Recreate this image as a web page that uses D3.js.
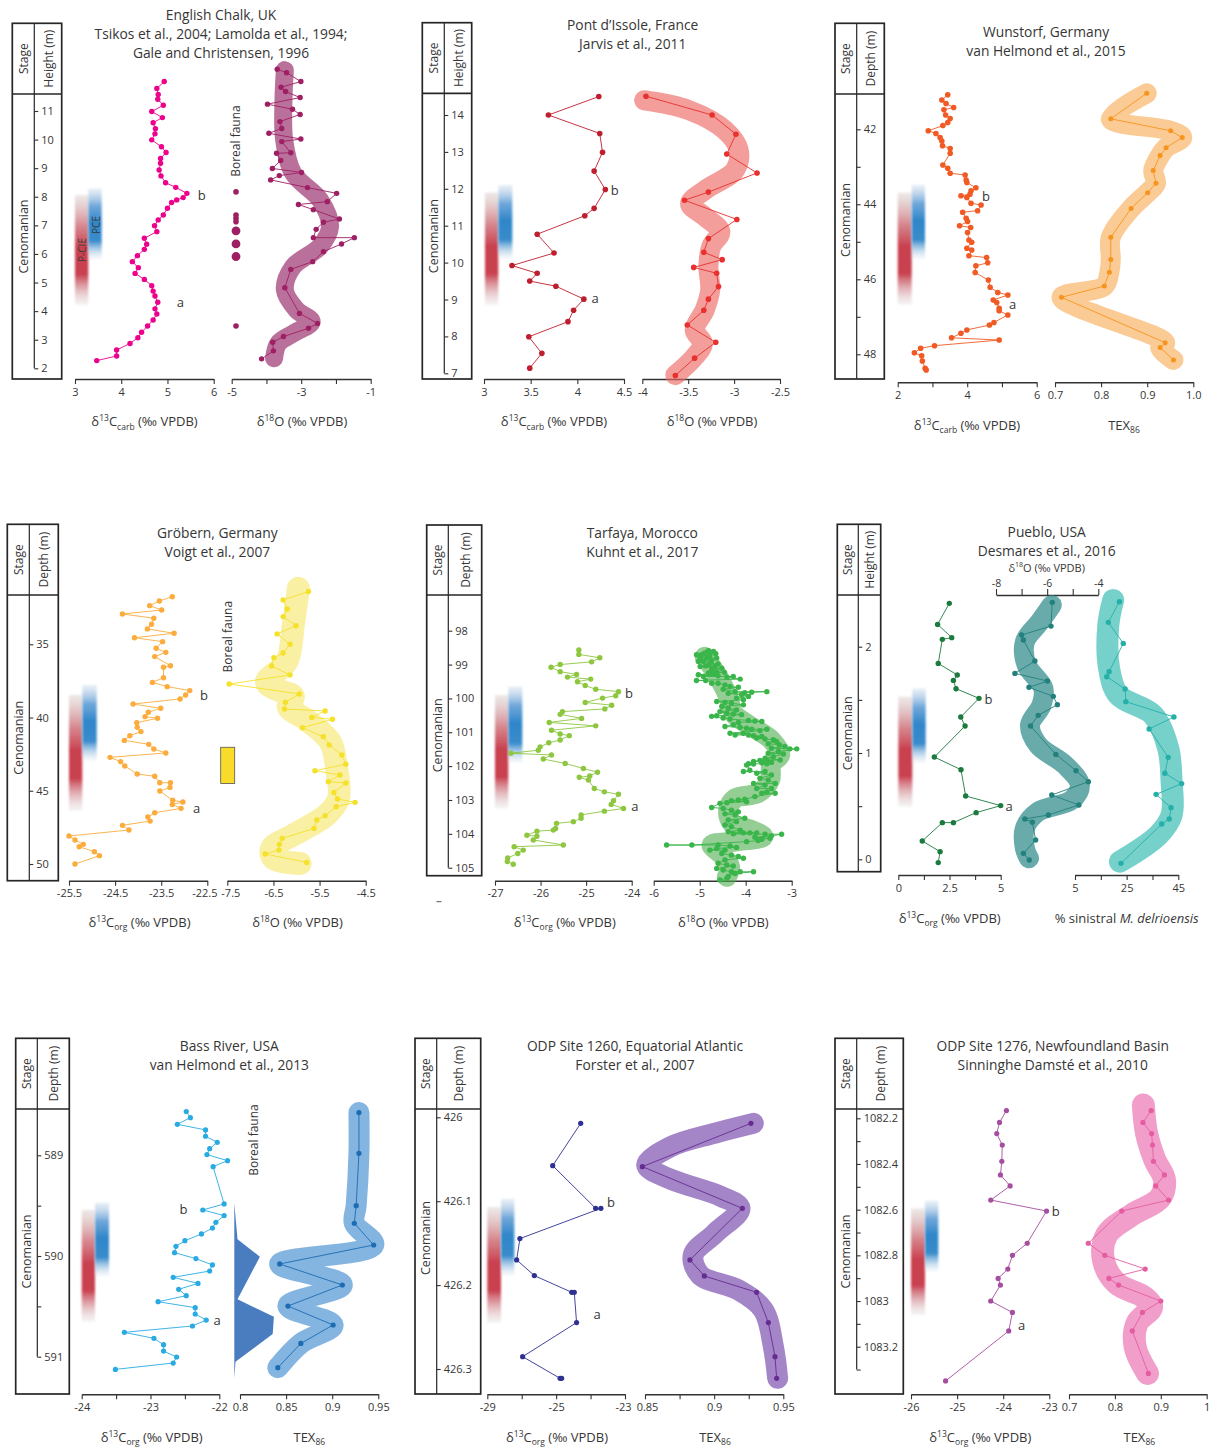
<!DOCTYPE html>
<html>
<head>
<meta charset="utf-8">
<script src="https://cdn.jsdelivr.net/npm/d3@7"></script>
<style>
  body { margin: 0; background: #fff; }
  svg text { font-family: "Open Sans", Lato, sans-serif; fill: #363636; }
</style>
</head>
<body>
<script>
// ================= data (value, depth/height) =================

// English Chalk
const chalkDepthTicks = [2, 3, 4, 5, 6, 7, 8, 9, 10, 11];
const chalkC13Ticks = [3, 4, 5, 6];
const chalkO18Ticks = [-5, -4, -3, -2, -1];
const chalkO18Labels = ["-5", "", "-3", "", "-1"];
const chalkC13 = [[4.93,12.03],[4.77,11.79],[4.80,11.58],[4.79,11.41],[4.91,11.20],[4.66,10.98],[4.89,10.77],[4.69,10.59],[4.74,10.38],[4.73,10.20],[4.66,9.99],[4.87,9.75],[4.97,9.55],[4.85,9.34],[4.85,9.17],[4.82,8.94],[4.86,8.73],[4.96,8.49],[5.18,8.33],[5.42,8.12],[5.34,7.97],[5.20,7.89],[5.09,7.80],[5.00,7.60],[4.91,7.36],[4.80,7.19],[4.72,6.99],[4.77,6.78],[4.50,6.55],[4.55,6.34],[4.50,6.16],[4.35,5.94],[4.24,5.73],[4.37,5.52],[4.30,5.32],[4.50,5.11],[4.66,4.89],[4.69,4.70],[4.73,4.53],[4.79,4.31],[4.73,4.08],[4.77,3.90],[4.69,3.69],[4.57,3.48],[4.44,3.26],[4.36,3.07],[4.19,2.87],[3.90,2.64],[3.90,2.43],[3.47,2.27]];
const chalkO18 = [[-3.69,12.46],[-3.42,12.34],[-3.01,12.03],[-3.58,11.83],[-3.45,11.68],[-3.03,11.47],[-3.97,11.24],[-3.25,11.06],[-3.03,10.88],[-3.61,10.63],[-3.56,10.39],[-3.93,10.22],[-3.01,10.02],[-3.56,9.93],[-3.30,9.54],[-3.71,9.52],[-3.59,9.27],[-3.83,8.99],[-2.99,8.85],[-3.63,8.74],[-3.88,8.59],[-2.82,8.32],[-1.98,8.12],[-2.25,7.83],[-3.08,7.73],[-2.65,7.55],[-1.90,7.22],[-2.36,7.11],[-2.57,6.86],[-2.65,6.57],[-1.47,6.57],[-1.84,6.35],[-2.36,6.08],[-2.67,5.73],[-3.30,5.46],[-3.47,4.82],[-3.05,3.92],[-2.53,3.57],[-2.79,3.40],[-3.51,3.11],[-3.82,2.91],[-3.80,2.61],[-4.14,2.33]];
const chalkBand = [[-3.47,12.43],[-3.51,11.38],[-3.49,9.99],[-3.23,8.82],[-2.46,7.89],[-2.17,6.96],[-2.46,6.26],[-3.23,5.56],[-3.47,4.74],[-3.13,4.04],[-2.70,3.63],[-3.23,3.22],[-3.66,2.87],[-3.78,2.35]];
const chalkBorealDepth = [8.17, 7.36, 7.25, 7.13, 6.81, 6.35, 5.91, 3.48];
const chalkBorealClass = [1, 1, 1, 1, 2, 2, 2, 1];
const chalkPCIE = [8.06, 4.21], chalkPCE = [8.29, 5.81];
const chalkA = [5.28, 4.33], chalkB = [5.74, 8.06];

// Pont d'Issole
const pontDepthTicks = [7, 8, 9, 10, 11, 12, 13, 14];
const pontC13Ticks = [3, 3.5, 4, 4.5];
const pontO18Ticks = [-4, -3.5, -3, -2.5];
const pontC13 = [[4.23,14.50],[3.69,14.00],[4.24,13.50],[4.27,12.99],[4.18,12.48],[4.30,11.98],[4.18,11.47],[4.08,11.27],[3.57,10.77],[3.75,10.26],[3.30,9.92],[3.57,9.71],[3.49,9.50],[3.77,9.36],[4.07,9.01],[3.96,8.71],[3.90,8.40],[3.48,7.99],[3.62,7.54],[3.49,7.14]];
const pontO18 = [[-3.96,14.51],[-3.24,14.00],[-2.98,13.48],[-3.08,12.94],[-2.75,12.43],[-3.28,11.91],[-3.54,11.69],[-2.97,11.17],[-3.28,10.65],[-3.33,10.28],[-3.13,10.08],[-3.44,9.87],[-3.19,9.71],[-3.17,9.35],[-3.28,9.01],[-3.33,8.71],[-3.51,8.31],[-3.20,7.84],[-3.43,7.41],[-3.64,6.94]];
const pontBand = [[-3.98,14.40],[-3.50,14.14],[-3.10,13.59],[-2.95,13.05],[-2.99,12.51],[-3.32,11.96],[-3.48,11.60],[-3.32,11.25],[-3.15,10.84],[-3.25,10.43],[-3.28,9.89],[-3.26,9.26],[-3.32,8.72],[-3.43,8.17],[-3.34,7.81],[-3.43,7.45],[-3.64,6.95]];
const pontPCIE = [11.90, 8.85], pontPCE = [12.10, 10.09];
const pontA = [4.19, 9.03], pontB = [4.40, 11.98];

// Wunstorf
const wunDepthTicks = [42, 43, 44, 45, 46, 47, 48];
const wunDepthLabels = ["42", "", "44", "", "46", "", "48"];
const wunC13Ticks = [2, 3, 4, 5, 6];
const wunC13Labels = ["2", "", "4", "", "6"];
const wunTexTicks = [0.7, 0.8, 0.9, 1.0];
const wunTexLabels = ["0.7", "0.8", "0.9", "1.0"];
const wunC13 = [[3.44,41.08],[3.27,41.22],[3.39,41.31],[3.61,41.42],[3.33,41.48],[3.38,41.62],[3.51,41.71],[3.44,41.82],[3.30,41.90],[2.88,42.04],[3.10,42.11],[3.22,42.22],[3.27,42.31],[3.29,42.44],[3.51,42.51],[3.51,42.64],[3.30,42.95],[3.44,43.04],[3.51,43.17],[3.94,43.22],[3.97,43.35],[3.99,43.42],[4.25,43.56],[4.11,43.64],[4.08,43.73],[3.82,43.77],[3.99,43.82],[4.11,43.97],[4.40,44.02],[4.30,44.17],[3.87,44.21],[3.97,44.37],[4.01,44.46],[3.78,44.57],[4.10,44.62],[4.01,44.75],[4.05,44.95],[4.13,45.01],[3.99,45.17],[4.13,45.22],[4.05,45.37],[4.56,45.42],[4.59,45.56],[4.25,45.64],[4.23,45.82],[4.61,46.02],[4.66,46.21],[4.88,46.35],[5.17,46.42],[4.75,46.55],[4.85,46.62],[4.92,46.77],[4.92,46.84],[5.17,46.95],[4.77,47.15],[4.64,47.22],[3.99,47.35],[3.82,47.44],[3.55,47.56],[4.92,47.62],[3.06,47.77],[2.66,47.84],[2.48,47.96],[2.69,48.04],[2.71,48.18],[2.79,48.37],[2.82,48.42]];
const wunTex = [[0.899,41.04],[0.821,41.72],[0.951,42.04],[0.976,42.22],[0.941,42.49],[0.928,42.70],[0.913,43.10],[0.919,43.44],[0.901,43.69],[0.865,44.11],[0.821,44.88],[0.821,45.47],[0.818,45.81],[0.807,46.18],[0.714,46.48],[0.939,47.69],[0.928,47.82],[0.957,48.15]];
const wunPCIE = [43.69, 46.68], wunPCE = [43.48, 45.47];
const wunA = [5.31, 46.67], wunB = [4.54, 43.77];

// Gröbern
const grobDepthTicks = [35, 40, 45, 50];
const grobC13Ticks = [-25.5, -24.5, -23.5, -22.5];
const grobO18Ticks = [-7.5, -6.5, -5.5, -4.5];
const grobC13 = [[-23.26,31.75],[-23.54,32.04],[-23.75,32.36],[-23.49,32.66],[-24.34,32.93],[-23.66,33.22],[-23.71,33.63],[-23.80,33.95],[-23.22,34.25],[-24.08,34.55],[-23.47,34.82],[-23.61,35.27],[-23.40,35.55],[-23.64,35.84],[-23.30,36.46],[-23.45,36.57],[-23.45,37.28],[-23.69,37.60],[-23.37,37.89],[-22.88,38.16],[-22.97,38.46],[-23.09,38.73],[-24.11,39.08],[-23.51,39.37],[-23.78,39.64],[-23.85,39.94],[-23.58,40.05],[-24.03,40.35],[-24.02,40.67],[-23.94,40.96],[-24.18,41.24],[-24.30,41.56],[-23.77,41.83],[-23.66,42.15],[-23.40,42.42],[-24.61,42.72],[-24.38,43.01],[-24.29,43.31],[-24.02,43.86],[-23.64,44.01],[-23.53,44.45],[-23.30,44.45],[-23.31,44.77],[-23.53,45.02],[-23.25,45.65],[-23.03,45.77],[-23.26,45.93],[-23.07,46.20],[-23.64,46.50],[-23.79,46.79],[-23.74,47.07],[-24.34,47.36],[-24.20,47.68],[-25.50,48.09],[-25.37,48.36],[-25.19,48.66],[-25.28,48.82],[-24.95,49.16],[-24.84,49.43],[-25.37,50.00]];
const grobO18 = [[-5.74,31.40],[-6.29,31.97],[-6.20,32.59],[-6.29,33.11],[-6.01,33.73],[-6.42,34.29],[-6.14,35.00],[-6.29,35.59],[-6.49,35.91],[-6.54,36.48],[-6.14,37.09],[-7.46,37.71],[-5.94,38.39],[-6.24,38.96],[-6.26,39.42],[-5.38,39.55],[-5.67,39.99],[-5.22,40.12],[-5.87,40.69],[-5.42,41.31],[-5.29,41.87],[-5.02,42.56],[-4.93,43.19],[-5.60,43.63],[-5.06,43.92],[-5.31,44.38],[-4.93,44.47],[-5.19,45.11],[-5.11,45.56],[-4.73,45.79],[-5.14,46.09],[-5.38,46.70],[-5.56,47.00],[-5.62,47.57],[-6.31,48.25],[-6.37,48.66],[-6.38,49.05],[-6.68,49.32],[-5.78,49.89]];
const grobBand = [[-5.96,31.18],[-6.07,33.68],[-6.21,36.18],[-6.65,37.55],[-6.50,38.00],[-6.07,38.57],[-6.18,39.26],[-5.78,40.17],[-5.27,41.65],[-5.13,43.47],[-5.09,45.52],[-5.35,46.66],[-6.07,48.02],[-6.54,48.93],[-6.50,49.61],[-5.92,49.96]];
const grobBoreal = [42.03, 44.51];
const grobPCIE = [38.46, 46.36], grobPCE = [37.78, 42.97];
const grobA = [-22.73, 46.20], grobB = [-22.57, 38.48];

// Tarfaya
const tarDepthTicks = [98, 99, 100, 101, 102, 103, 104, 105];
const tarC13Ticks = [-27, -26, -25, -24];
const tarO18Ticks = [-6, -5, -4, -3];
const tarC13 = [[-25.16,98.57],[-25.16,98.70],[-24.70,98.80],[-24.88,98.92],[-25.57,99.00],[-25.77,99.08],[-25.57,99.21],[-25.21,99.29],[-25.41,99.37],[-24.90,99.43],[-25.19,99.51],[-25.02,99.62],[-24.79,99.73],[-24.29,99.80],[-24.35,99.92],[-24.64,99.99],[-25.02,100.12],[-24.44,100.20],[-24.59,100.31],[-25.52,100.39],[-25.57,100.47],[-25.10,100.59],[-25.81,100.71],[-24.79,100.81],[-25.76,100.94],[-25.57,101.05],[-25.37,101.10],[-25.57,101.23],[-25.82,101.31],[-26.01,101.43],[-26.05,101.53],[-26.65,101.62],[-25.76,101.67],[-25.94,101.79],[-25.46,101.92],[-25.06,102.07],[-24.75,102.18],[-24.92,102.29],[-25.15,102.33],[-24.95,102.41],[-24.82,102.66],[-24.60,102.76],[-24.29,102.83],[-24.40,103.02],[-24.45,103.13],[-24.18,103.25],[-24.60,103.33],[-25.11,103.44],[-25.11,103.54],[-25.28,103.64],[-25.65,103.69],[-25.67,103.84],[-25.72,103.89],[-26.08,103.92],[-26.30,104.04],[-26.08,104.07],[-26.16,104.18],[-25.50,104.33],[-26.58,104.38],[-26.38,104.48],[-26.50,104.58],[-26.72,104.71],[-26.73,104.82],[-26.60,104.90]];
const tarO18 = [[-4.81,98.59],[-4.70,98.61],[-4.89,98.66],[-4.65,98.68],[-4.78,98.74],[-4.96,98.71],[-5.07,98.71],[-4.99,98.81],[-4.85,98.81],[-4.63,98.81],[-4.74,98.88],[-4.92,98.91],[-5.03,98.91],[-4.78,98.96],[-4.60,98.98],[-4.87,99.04],[-4.67,99.06],[-4.99,99.06],[-4.74,99.14],[-4.52,99.11],[-4.63,99.21],[-4.46,99.23],[-4.81,99.25],[-5.03,99.30],[-4.92,99.35],[-4.70,99.27],[-4.60,99.33],[-4.41,99.37],[-4.27,99.35],[-4.12,99.43],[-5.07,99.47],[-4.87,99.47],[-4.74,99.55],[-4.60,99.55],[-4.45,99.60],[-4.34,99.65],[-4.16,99.67],[-4.49,99.73],[-4.23,99.80],[-4.02,99.83],[-3.87,99.82],[-3.54,99.80],[-4.38,99.85],[-4.09,99.89],[-3.94,99.94],[-4.20,99.99],[-4.05,100.04],[-4.63,100.09],[-4.45,100.12],[-4.31,100.14],[-4.05,100.19],[-4.52,100.24],[-4.38,100.29],[-4.20,100.34],[-4.56,100.39],[-4.41,100.44],[-4.27,100.46],[-4.09,100.48],[-4.74,100.53],[-4.63,100.51],[-4.49,100.58],[-4.34,100.61],[-3.94,100.65],[-3.80,100.67],[-3.65,100.68],[-4.16,100.71],[-4.27,100.78],[-4.45,100.83],[-4.12,100.85],[-3.98,100.88],[-3.87,100.91],[-3.54,100.91],[-3.69,100.95],[-4.34,101.03],[-4.05,101.03],[-4.23,101.08],[-3.94,101.08],[-3.83,101.10],[-3.65,101.12],[-3.76,101.17],[-3.58,101.20],[-3.40,101.22],[-3.33,101.27],[-3.51,101.34],[-3.27,101.37],[-3.15,101.42],[-3.44,101.47],[-3.04,101.49],[-2.89,101.49],[-3.29,101.57],[-3.51,101.62],[-3.18,101.64],[-3.40,101.72],[-3.58,101.77],[-3.25,101.82],[-3.69,101.83],[-3.83,101.86],[-3.51,101.87],[-3.44,101.89],[-3.65,101.90],[-3.54,101.93],[-3.94,101.93],[-3.83,101.94],[-3.98,101.97],[-3.91,102.12],[-4.05,102.16],[-3.58,102.16],[-3.76,102.21],[-3.44,102.26],[-3.69,102.36],[-3.51,102.41],[-3.36,102.51],[-3.83,102.51],[-3.58,102.56],[-3.76,102.66],[-3.44,102.66],[-3.54,102.76],[-3.65,102.80],[-3.36,102.80],[-3.80,102.90],[-4.02,102.98],[-4.16,103.00],[-4.31,103.02],[-3.98,103.05],[-4.41,103.08],[-4.56,103.10],[-4.74,103.22],[-4.49,103.25],[-4.31,103.30],[-4.16,103.35],[-4.45,103.41],[-4.23,103.44],[-4.02,103.54],[-4.38,103.59],[-4.20,103.64],[-4.45,103.74],[-4.31,103.79],[-4.12,103.89],[-4.38,103.94],[-4.05,103.97],[-3.91,103.97],[-3.76,103.97],[-4.27,104.00],[-3.58,104.01],[-3.22,104.01],[-3.44,104.06],[-3.80,104.10],[-3.47,104.13],[-3.65,104.16],[-3.73,104.20],[-3.98,104.23],[-5.17,104.33],[-5.72,104.33],[-4.60,104.33],[-4.34,104.36],[-4.20,104.40],[-4.63,104.43],[-4.78,104.48],[-4.45,104.48],[-4.52,104.58],[-4.31,104.63],[-4.16,104.67],[-4.05,104.72],[-4.45,104.77],[-4.60,104.87],[-4.41,104.92],[-4.27,104.95],[-4.63,105.02],[-4.49,105.07],[-4.31,105.12],[-4.12,105.12],[-3.83,105.12],[-4.23,105.17],[-4.38,105.26],[-4.41,105.31],[-4.56,105.36]];
const tarBand = [[-4.89,98.77],[-4.60,99.36],[-4.38,99.95],[-4.27,100.44],[-3.94,100.78],[-3.44,101.23],[-3.25,101.67],[-3.44,101.92],[-3.47,102.41],[-3.73,102.80],[-4.23,102.95],[-4.38,103.30],[-4.30,103.69],[-3.87,103.89],[-3.62,104.08],[-4.23,104.23],[-4.74,104.33],[-4.52,104.62],[-4.34,104.97],[-4.41,105.27]];
const tarPCIE = [99.90, 103.25], tarPCE = [99.65, 101.91];
const tarA = [-23.93, 103.18], tarB = [-24.06, 99.83];

// Pueblo
const puebDepthTicks = [0, 0.5, 1, 1.5, 2];
const puebDepthLabels = ["0", "", "1", "", "2"];
const puebC13Ticks = [0, 1.25, 2.5, 3.75, 5];
const puebC13Labels = ["0", "", "2.5", "", "5"];
const puebO18Ticks = [-8, -7, -6, -5, -4];
const puebO18Labels = ["-8", "", "-6", "", "-4"];
const puebSinTicks = [5, 15, 25, 35, 45];
const puebSinLabels = ["5", "", "25", "", "45"];
const puebC13 = [[2.49,2.408],[1.92,2.210],[2.61,2.085],[2.15,2.069],[1.95,1.843],[2.88,1.734],[2.69,1.683],[2.82,1.605],[3.94,1.514],[3.05,1.339],[3.26,1.254],[1.76,0.962],[3.06,0.843],[3.29,0.596],[5.00,0.505],[3.80,0.439],[2.69,0.345],[2.15,0.345],[1.17,0.172],[2.04,0.072],[1.95,-0.031]];
const puebO18 = [[-5.80,2.417],[-5.85,2.194],[-7.00,2.110],[-6.93,2.063],[-6.48,1.865],[-7.26,1.749],[-5.99,1.677],[-6.71,1.618],[-5.76,1.533],[-5.60,1.455],[-6.35,1.354],[-6.65,1.254],[-5.66,0.987],[-4.87,0.834],[-4.39,0.730],[-5.82,0.605],[-4.76,0.511],[-5.95,0.417],[-6.87,0.379],[-6.58,0.348],[-6.45,0.182],[-6.93,0.056],[-6.70,-0.006]];
const puebO18Band = [[-5.82,2.392],[-6.28,2.235],[-6.87,2.047],[-6.80,1.828],[-6.15,1.608],[-6.22,1.451],[-6.67,1.263],[-6.35,1.075],[-5.30,0.887],[-4.72,0.699],[-5.04,0.558],[-6.35,0.448],[-6.87,0.292],[-6.87,0.103],[-6.71,0.009]];
const puebSin = [[22.2,2.423],[17.9,2.229],[23.7,2.031],[18.2,1.765],[17.3,1.718],[24.4,1.602],[24.7,1.483],[43.3,1.339],[33.7,1.226],[41.1,0.959],[39.8,0.809],[46.3,0.712],[36.4,0.611],[42.2,0.486],[41.5,0.379],[38.6,0.332],[22.8,-0.038]];
const puebSinBand = [[19.8,2.439],[17.9,2.204],[18.2,1.796],[21.8,1.545],[35.3,1.357],[41.1,1.044],[42.4,0.730],[42.4,0.417],[37.3,0.229],[22.4,-0.022]];
const puebPCIE = [1.530, 0.495], puebPCE = [1.608, 0.903];
const puebA = [5.41, 0.505], puebB = [4.40, 1.505];

// Bass River
const bassDepthTicks = [589, 589.5, 590, 590.5, 591];
const bassDepthLabels = ["589", "", "590", "", "591"];
const bassC13Ticks = [-24, -23.5, -23, -22.5, -22];
const bassC13Labels = ["-24", "", "-23", "", "-22"];
const bassTexTicks = [0.8, 0.85, 0.9, 0.95];
const bassC13 = [[-22.48,588.566],[-22.42,588.626],[-22.61,588.692],[-22.20,588.748],[-22.20,588.811],[-22.03,588.871],[-22.14,588.934],[-22.18,588.993],[-21.88,589.053],[-22.09,589.113],[-21.93,589.483],[-22.24,589.543],[-21.93,589.599],[-22.05,589.666],[-22.10,589.722],[-22.26,589.781],[-22.50,589.848],[-22.63,589.904],[-22.65,589.967],[-22.34,590.026],[-22.10,590.089],[-22.14,590.149],[-22.67,590.212],[-22.31,590.272],[-22.59,590.331],[-22.48,590.394],[-22.89,590.454],[-22.35,590.513],[-22.35,590.576],[-22.19,590.636],[-22.39,590.695],[-23.38,590.758],[-22.95,590.818],[-22.81,590.881],[-22.81,590.944],[-22.62,591.003],[-22.67,591.063],[-23.51,591.126]];
const bassTex = [[0.929,588.576],[0.929,588.980],[0.926,589.500],[0.924,589.675],[0.945,589.891],[0.843,590.079],[0.911,590.288],[0.852,590.497],[0.901,590.685],[0.866,590.868],[0.841,591.109]];
const bassBorealDepth = [589.477, 589.834, 590.007, 590.430, 590.603, 590.775, 591.050, 591.215];
const bassBorealAbund = [0, 8, 64, 8, 99, 96, 3, 0];
const bassPCIE = [589.543, 590.652], bassPCE = [589.470, 590.205];
const bassA = [-22.03, 590.636], bassB = [-22.52, 589.533];

// ODP Site 1260
const odp60DepthTicks = [426, 426.1, 426.2, 426.3];
const odp60C13Ticks = [-29, -27.5, -26, -24.5, -23];
const odp60C13Labels = ["-29", "", "-25", "", "-23"];
const odp60TexTicks = [0.85, 0.875, 0.9, 0.925, 0.95];
const odp60TexLabels = ["0.85", "", "0.9", "", "0.95"];
const odp60C13 = [[-24.93,426.0072],[-26.15,426.0576],[-24.28,426.1085],[-24.05,426.1085],[-27.58,426.1446],[-27.72,426.1700],[-26.95,426.1887],[-25.32,426.2086],[-25.21,426.2086],[-25.11,426.2447],[-27.46,426.2853],[-25.83,426.3111],[-25.76,426.3111]];
const odp60Tex = [[0.9266,426.0072],[0.8481,426.0588],[0.9204,426.1085],[0.8825,426.1700],[0.8929,426.1891],[0.9307,426.2086],[0.9392,426.2447],[0.9440,426.2853],[0.9452,426.3111]];
const odp60Band = [[0.9283,426.0072],[0.9001,426.0191],[0.8687,426.0350],[0.8512,426.0568],[0.8669,426.0727],[0.9054,426.0946],[0.9187,426.1085],[0.9006,426.1383],[0.8849,426.1641],[0.8898,426.1879],[0.9175,426.2058],[0.9356,426.2296],[0.9428,426.2733],[0.9459,426.3111]];
const odp60PCIE = [426.107, 426.245], odp60PCE = [426.097, 426.189];
const odp60A = [-24.21, 426.2344], odp60B = [-23.61, 426.1005];

// ODP Site 1276
const odp76DepthTicks = [1082.2, 1082.3, 1082.4, 1082.5, 1082.6, 1082.7, 1082.8, 1082.9, 1083, 1083.1, 1083.2, 1083.3];
const odp76DepthLabels = ["1082.2", "", "1082.4", "", "1082.6", "", "1082.8", "", "1083", "", "1083.2", ""];
const odp76C13Ticks = [-26, -25, -24, -23];
const odp76TexTicks = [0.7, 0.8, 0.9, 1];
const odp76C13 = [[-23.93,1082.166],[-24.08,1082.218],[-24.14,1082.267],[-24.02,1082.317],[-24.03,1082.388],[-24.06,1082.448],[-23.85,1082.496],[-24.27,1082.558],[-23.06,1082.606],[-23.48,1082.747],[-23.80,1082.800],[-23.90,1082.860],[-24.11,1082.901],[-24.06,1082.930],[-24.27,1083.000],[-23.80,1083.050],[-23.88,1083.131],[-25.25,1083.350]];
const odp76Tex = [[0.879,1082.166],[0.861,1082.218],[0.880,1082.267],[0.882,1082.317],[0.884,1082.388],[0.908,1082.448],[0.889,1082.496],[0.917,1082.558],[0.815,1082.606],[0.742,1082.747],[0.778,1082.800],[0.866,1082.860],[0.787,1082.901],[0.808,1082.930],[0.900,1083.000],[0.860,1083.050],[0.838,1083.131],[0.873,1083.317]];
const odp76Band = [[0.862,1082.142],[0.869,1082.266],[0.887,1082.382],[0.908,1082.470],[0.898,1082.550],[0.837,1082.623],[0.782,1082.711],[0.775,1082.820],[0.804,1082.923],[0.862,1082.981],[0.880,1083.025],[0.848,1083.098],[0.844,1083.200],[0.871,1083.317]];
const odp76PCIE = [1082.594, 1083.061], odp76PCE = [1082.561, 1082.872];
const odp76A = [-23.60, 1083.105], odp76B = [-22.86, 1082.606];

// axis titles (text, kind)
const T_C13carb = [["δ"], ["13", "sup"], ["C"], ["carb", "sub"], [" (‰ VPDB)"]];
const T_C13org = [["δ"], ["13", "sup"], ["C"], ["org", "sub"], [" (‰ VPDB)"]];
const T_O18 = [["δ"], ["18", "sup"], ["O (‰ VPDB)"]];
const T_TEX = [["TEX"], ["86", "sub"]];
const T_SIN = [["% sinistral "], ["M. delrioensis", "it"]];

// ================= drawing =================
const svg = d3.select("body").append("svg").attr("width", 1211).attr("height", 1447);
const defs = svg.append("defs");

function vGrad(id, stops) {
  const lg = defs.append("linearGradient").attr("id", id)
    .attr("x1", 0).attr("y1", 0).attr("x2", 0).attr("y2", 1);
  stops.forEach(s => lg.append("stop").attr("offset", s[0]).attr("stop-color", s[1]).attr("stop-opacity", s[2]));
}
vGrad("gRed", [[0, "#d8cdca", 0.45], [0.28, "#d27a82", 0.9], [0.48, "#c9404f", 1], [0.72, "#c9404f", 1], [1, "#dcd4d4", 0.25]]);
vGrad("gBlue", [[0, "#c9d8ec", 0.4], [0.25, "#5f9dd6", 0.9], [0.48, "#2f86c9", 1], [0.74, "#3a8ccc", 1], [1, "#dde6f0", 0.2]]);
defs.append("filter").attr("id", "soft").attr("x", "-40%").attr("y", "-10%").attr("width", "180%").attr("height", "120%")
  .append("feGaussianBlur").attr("stdDeviation", "1.3 0.8");

function vtext(g, x, y, s, fs) {
  return g.append("text").attr("transform", `translate(${x},${y}) rotate(-90)`)
    .attr("text-anchor", "middle").attr("dominant-baseline", "central")
    .style("font-size", fs + "px").text(s);
}

function rich(t, parts, small) {
  let shift = 0;
  parts.forEach(([s, kind]) => {
    const sp = t.append("tspan").text(s);
    let target = 0;
    if (kind === "sup") { target = -5; sp.style("font-size", small + "px"); }
    else if (kind === "sub") { target = 3.5; sp.style("font-size", small + "px"); }
    else if (kind === "it") sp.style("font-style", "italic");
    if (target !== shift) { sp.attr("dy", target - shift); shift = target; }
  });
}

function styleAxis(sel, fs) {
  sel.attr("font-family", null).attr("font-size", null);
  sel.selectAll("text").attr("fill", null).style("font-size", fs + "px");
  sel.selectAll(".tick line").attr("stroke", "#333").attr("stroke-width", 1.1);
  sel.select(".domain").attr("stroke", "#333").attr("stroke-width", 1.6);
}

function series(g, s, x, y) {
  const line = d3.line().x(d => x(d[0])).y(d => y(d[1]));
  if (s.band) {
    g.append("path").datum(s.band)
      .attr("d", d3.line().curve(d3.curveCatmullRom.alpha(0.5)).x(d => x(d[0])).y(d => y(d[1])))
      .attr("fill", "none").attr("stroke", s.bandColor).attr("stroke-opacity", s.bandOpacity)
      .attr("stroke-width", s.bandWidth).attr("stroke-linecap", "round").attr("stroke-linejoin", "round");
  }
  const pts = s.sort ? d3.sort(s.data, d => d[1]) : s.data;
  g.append("path").datum(pts).attr("d", line)
    .attr("fill", "none").attr("stroke", s.color).attr("stroke-width", 0.9);
  g.append("g").selectAll("circle").data(pts).join("circle")
    .attr("cx", d => x(d[0])).attr("cy", d => y(d[1])).attr("r", s.r).attr("fill", s.color);
}

function drawPanel(p) {
  const g = svg.append("g");
  const b = p.box;
  const ink = "#262626";
  const y = d3.scaleLinear().domain(p.depthRef).range(p.depthPx);

  // stage / depth column
  g.append("rect").attr("x", b.x0).attr("y", b.y0).attr("width", b.x1 - b.x0).attr("height", b.y1 - b.y0)
    .attr("fill", "none").attr("stroke", ink).attr("stroke-width", 1.7);
  g.append("line").attr("x1", b.x0).attr("x2", b.x1).attr("y1", b.head).attr("y2", b.head)
    .attr("stroke", ink).attr("stroke-width", 1.7);
  g.append("line").attr("x1", b.div).attr("x2", b.div).attr("y1", b.y0)
    .attr("y2", b.divFull ? b.y1 : d3.max(p.depthTicks, y)).attr("stroke", ink).attr("stroke-width", 1.2);
  const da = g.append("g").attr("transform", `translate(${b.div},0)`)
    .call(d3.axisRight(y).tickValues(p.depthTicks).tickSize(4).tickPadding(3)
      .tickFormat((d, i) => p.depthLabels ? p.depthLabels[i] : d));
  da.select(".domain").remove();
  styleAxis(da, 11);
  vtext(g, (b.x0 + b.div) / 2, (b.y0 + b.head) / 2, "Stage", 12);
  vtext(g, (b.div + b.x1) / 2, (b.y0 + b.head) / 2, p.depthName, 12);
  vtext(g, (b.x0 + b.div) / 2, p.stageY || (b.head + b.y1) / 2, "Cenomanian", 12.5);

  // site title
  p.title.forEach((t, i) => g.append("text").attr("x", p.titleX).attr("y", p.titleY + i * 19 + 4.6)
    .attr("text-anchor", "middle").style("font-size", "13.8px").text(t));

  // P-CIE / PCE bars
  const bar = (xr, dr, id) => g.append("rect").attr("x", xr[0]).attr("width", xr[1] - xr[0])
    .attr("y", Math.min(y(dr[0]), y(dr[1]))).attr("height", Math.abs(y(dr[1]) - y(dr[0])))
    .attr("fill", `url(#${id})`).attr("filter", "url(#soft)");
  bar(p.redX, p.pcie, "gRed");
  bar(p.blueX, p.pce, "gBlue");

  if (p.extraBefore) p.extraBefore(g, y);

  const xs = [];
  p.axes.forEach(a => {
    const x = d3.scaleLinear().domain(a.domain).range(a.range);
    xs.push(x);
    const gen = a.top ? d3.axisTop(x) : d3.axisBottom(x);
    const ag = g.append("g").attr("transform", `translate(0,${a.y})`)
      .call(gen.tickValues(a.ticks).tickSize(a.top ? 6 : 5).tickSizeOuter(0).tickPadding(a.top ? 2 : 4)
        .tickFormat((d, i) => a.labels ? a.labels[i] : d));
    styleAxis(ag, a.top ? 10.5 : 11);
    if (a.nudge) {
      const tx = ag.selectAll(".tick text");
      const n = tx.size();
      tx.attr("dx", (d, i) => i === 0 ? a.nudge[0] : (i === n - 1 ? a.nudge[1] : 0));
    }
    const t = g.append("text").attr("x", a.titleX).attr("y", a.titleY)
      .attr("text-anchor", "middle").style("font-size", (a.top ? 11 : 13) + "px");
    rich(t, a.title, a.top ? 7 : 8.5);
    if (a.series) series(g, a.series, x, y);
  });

  // a / b labels on the carbon curve
  const xc = xs[0];
  [["a", p.markA], ["b", p.markB]].forEach(([s, m]) =>
    g.append("text").attr("x", xc(m[0])).attr("y", y(m[1])).attr("text-anchor", "middle")
      .attr("dominant-baseline", "central").style("font-size", "13px").text(s));

  if (p.extra) p.extra(g, y, xs);
}

const panels = [
  { // English Chalk
    title: ["English Chalk, UK", "Tsikos et al., 2004; Lamolda et al., 1994;", "Gale and Christensen, 1996"],
    titleX: 221, titleY: 15.7,
    box: { x0: 12.3, x1: 61.7, y0: 23.3, head: 94, y1: 379, div: 34.3, divFull: false },
    depthName: "Height (m)", depthRef: [2, 11], depthPx: [368.3, 111], depthTicks: chalkDepthTicks,
    redX: [75, 88.3], blueX: [88.3, 101.7], pcie: chalkPCIE, pce: chalkPCE, markA: chalkA, markB: chalkB,
    axes: [
      { range: [75, 213.7], domain: [3, 6], ticks: chalkC13Ticks, y: 379, title: T_C13carb, titleX: 144.5, titleY: 426,
        series: { data: chalkC13, color: "#ec008c", r: 2.7 } },
      { range: [231.7, 370.7], domain: [-5, -1], ticks: chalkO18Ticks, labels: chalkO18Labels, y: 379, title: T_O18, titleX: 302, titleY: 426,
        series: { data: chalkO18, color: "#9e1f63", r: 2.7, band: chalkBand, bandColor: "#9e3a74", bandOpacity: 0.72, bandWidth: 18 } }
    ],
    extra: (g, y) => {
      vtext(g, 235, 141, "Boreal fauna", 12);
      const rs = d3.scaleLinear().domain([1, 2]).range([2.8, 4.4]);
      g.append("g").selectAll("circle").data(chalkBorealDepth).join("circle")
        .attr("cx", 236).attr("cy", d => y(d)).attr("r", (d, i) => rs(chalkBorealClass[i])).attr("fill", "#9e1f63");
      vtext(g, 81.9, 250, "P-CIE", 10).style("fill", "#3a3a3a");
      vtext(g, 95.6, 225, "PCE", 10).style("fill", "#3a3a3a");
    }
  },
  { // Pont d'Issole
    title: ["Pont d’Issole, France", "Jarvis et al., 2011"], titleX: 632.7, titleY: 25.7,
    box: { x0: 422.3, x1: 471.7, y0: 22.7, head: 93.3, y1: 379, div: 444.3, divFull: false },
    depthName: "Height (m)", depthRef: [7, 14], depthPx: [373.3, 115], depthTicks: pontDepthTicks,
    redX: [485, 498.3], blueX: [498.3, 512.3], pcie: pontPCIE, pce: pontPCE, markA: pontA, markB: pontB,
    axes: [
      { range: [484, 624], domain: [3, 4.5], ticks: pontC13Ticks, y: 379, title: T_C13carb, titleX: 554, titleY: 426,
        series: { data: pontC13, color: "#be1e2d", r: 2.8 } },
      { range: [642.3, 780], domain: [-4, -2.5], ticks: pontO18Ticks, y: 379, title: T_O18, titleX: 712, titleY: 426,
        series: { data: pontO18, color: "#e8302f", r: 2.8, band: pontBand, bandColor: "#ec6a64", bandOpacity: 0.65, bandWidth: 20 } }
    ]
  },
  { // Wunstorf
    title: ["Wunstorf, Germany", "van Helmond et al., 2015"], titleX: 1046, titleY: 32.3,
    box: { x0: 835, x1: 884.3, y0: 23.3, head: 94, y1: 379, div: 856.7, divFull: true }, stageY: 220,
    depthName: "Depth (m)", depthRef: [42, 48], depthPx: [129.3, 354.3], depthTicks: wunDepthTicks, depthLabels: wunDepthLabels,
    redX: [897.7, 911.7], blueX: [911.7, 925], pcie: wunPCIE, pce: wunPCE, markA: wunA, markB: wunB,
    axes: [
      { range: [897.7, 1036.7], domain: [2, 6], ticks: wunC13Ticks, labels: wunC13Labels, y: 382.3, title: T_C13carb, titleX: 967, titleY: 429.5,
        series: { data: wunC13, color: "#f15a24", r: 2.8 } },
      { range: [1055, 1193.3], domain: [0.7, 1.0], ticks: wunTexTicks, labels: wunTexLabels, y: 382.3, title: T_TEX, titleX: 1124, titleY: 429.5,
        series: { data: wunTex, color: "#f7941d", r: 2.5, band: wunTex, bandColor: "#f9a94e", bandOpacity: 0.6, bandWidth: 20 } }
    ]
  },
  { // Gröbern
    title: ["Gröbern, Germany", "Voigt et al., 2007"], titleX: 217.3, titleY: 533.3,
    box: { x0: 7.3, x1: 58.3, y0: 524.3, head: 595, y1: 880.7, div: 29.3, divFull: true },
    depthName: "Depth (m)", depthRef: [35, 50], depthPx: [644.3, 864], depthTicks: grobDepthTicks,
    redX: [69, 82.3], blueX: [82.3, 96.7], pcie: grobPCIE, pce: grobPCE, markA: grobA, markB: grobB,
    axes: [
      { range: [69, 207.3], domain: [-25.5, -22.5], ticks: grobC13Ticks, nudge: [0, -3], y: 880.7, title: T_C13org, titleX: 139.5, titleY: 926.8,
        series: { data: grobC13, color: "#fbac3c", r: 2.7 } },
      { range: [227.3, 365.7], domain: [-7.5, -4.5], ticks: grobO18Ticks, nudge: [3, 0], y: 880.7, title: T_O18, titleX: 297.5, titleY: 926.8,
        series: { data: grobO18, color: "#f5e12a", r: 2.7, band: grobBand, bandColor: "#f4e45a", bandOpacity: 0.55, bandWidth: 23 } }
    ],
    extra: (g, y) => {
      vtext(g, 227.3, 636.7, "Boreal fauna", 12);
      g.append("rect").attr("x", 220.7).attr("width", 14).attr("y", y(grobBoreal[0]))
        .attr("height", y(grobBoreal[1]) - y(grobBoreal[0])).attr("fill", "#f9dc2a").attr("stroke", "#555").attr("stroke-width", 0.8);
    }
  },
  { // Tarfaya
    title: ["Tarfaya, Morocco", "Kuhnt et al., 2017"], titleX: 642.3, titleY: 533.3,
    box: { x0: 426.7, x1: 481.7, y0: 525, head: 595, y1: 875.7, div: 448.3, divFull: false },
    depthName: "Depth (m)", depthRef: [98, 105], depthPx: [630.7, 867.7], depthTicks: tarDepthTicks,
    redX: [495, 508.3], blueX: [508.3, 522.3], pcie: tarPCIE, pce: tarPCE, markA: tarA, markB: tarB,
    axes: [
      { range: [495, 631.7], domain: [-27, -24], ticks: tarC13Ticks, y: 880.7, title: T_C13org, titleX: 564.8, titleY: 926.8,
        series: { data: tarC13, color: "#8dc63f", r: 2.7, sort: true } },
      { range: [653.7, 791.7], domain: [-6, -3], ticks: tarO18Ticks, y: 880.7, title: T_O18, titleX: 723.3, titleY: 926.8,
        series: { data: tarO18, color: "#39b54a", r: 2.7, sort: true, band: tarBand, bandColor: "#4cae4c", bandOpacity: 0.6, bandWidth: 20 } }
    ],
    extra: g => {
      g.append("line").attr("x1", 436.5).attr("x2", 441.5).attr("y1", 901.7).attr("y2", 901.7).attr("stroke", "#555").attr("stroke-width", 1);
    }
  },
  { // Pueblo
    title: ["Pueblo, USA", "Desmares et al., 2016"], titleX: 1046.7, titleY: 532.7,
    box: { x0: 837.3, x1: 880.7, y0: 524.3, head: 595, y1: 871.7, div: 858.3, divFull: true },
    depthName: "Height (m)", depthRef: [0, 2], depthPx: [859.3, 646.7], depthTicks: puebDepthTicks, depthLabels: puebDepthLabels,
    redX: [898.3, 912.3], blueX: [912.3, 925.7], pcie: puebPCIE, pce: puebPCE, markA: puebA, markB: puebB,
    axes: [
      { range: [898.3, 1000.7], domain: [0, 5], ticks: puebC13Ticks, labels: puebC13Labels, y: 875, title: T_C13org, titleX: 949.7, titleY: 922.8,
        series: { data: puebC13, color: "#1b7a3e", r: 2.7 } },
      { range: [996, 1098.3], domain: [-8, -4], ticks: puebO18Ticks, labels: puebO18Labels, y: 595, top: true, title: T_O18, titleX: 1046.7, titleY: 572.3,
        series: { data: puebO18, color: "#23807c", r: 2.7, band: puebO18Band, bandColor: "#2f8a8a", bandOpacity: 0.72, bandWidth: 20 } },
      { range: [1075, 1178.3], domain: [5, 45], ticks: puebSinTicks, labels: puebSinLabels, y: 875, title: T_SIN, titleX: 1126.7, titleY: 922.8,
        series: { data: puebSin, color: "#24b0a8", r: 2.7, band: puebSinBand, bandColor: "#3dbdb5", bandOpacity: 0.7, bandWidth: 22 } }
    ]
  },
  { // Bass River
    title: ["Bass River, USA", "van Helmond et al., 2013"], titleX: 229.3, titleY: 1046.7,
    box: { x0: 15.7, x1: 69.3, y0: 1038.3, head: 1109, y1: 1394, div: 37.3, divFull: false },
    depthName: "Depth (m)", depthRef: [589, 591], depthPx: [1155.3, 1356.7], depthTicks: bassDepthTicks, depthLabels: bassDepthLabels,
    redX: [81.7, 95], blueX: [95, 109], pcie: bassPCIE, pce: bassPCE, markA: bassA, markB: bassB,
    extraBefore: (g, y) => {
      vtext(g, 253.3, 1140, "Boreal fauna", 12);
      const ab = d3.scaleLinear().domain([0, 100]).range([0, 40]);
      const pts = bassBorealDepth.map((d, i) => [d, bassBorealAbund[i]]);
      g.append("path").datum(pts)
        .attr("d", d3.area().y(d => y(d[0])).x0(234.3).x1(d => 234.3 + ab(d[1])))
        .attr("fill", "#4a7dc0");
    },
    axes: [
      { range: [81.7, 219.3], domain: [-24, -22], ticks: bassC13Ticks, labels: bassC13Labels, y: 1394.3, title: T_C13org, titleX: 151.7, titleY: 1441.8,
        series: { data: bassC13, color: "#29abe2", r: 2.6 } },
      { range: [240, 378.3], domain: [0.8, 0.95], ticks: bassTexTicks, y: 1394.3, title: T_TEX, titleX: 309.3, titleY: 1441.8,
        series: { data: bassTex, color: "#1c6cb4", r: 2.6, band: bassTex, bandColor: "#5b9bd5", bandOpacity: 0.75, bandWidth: 21 } }
    ]
  },
  { // ODP 1260
    title: ["ODP Site 1260, Equatorial Atlantic", "Forster et al., 2007"], titleX: 635, titleY: 1046.7,
    box: { x0: 415, x1: 480.7, y0: 1038.3, head: 1109, y1: 1394, div: 436.7, divFull: true }, stageY: 1238,
    depthName: "Depth (m)", depthRef: [426, 426.3], depthPx: [1117.3, 1369], depthTicks: odp60DepthTicks,
    redX: [487.3, 501], blueX: [501, 514.3], pcie: odp60PCIE, pce: odp60PCE, markA: odp60A, markB: odp60B,
    axes: [
      { range: [487.3, 625], domain: [-29, -23], ticks: odp60C13Ticks, labels: odp60C13Labels, nudge: [0, -2], y: 1394.3, title: T_C13org, titleX: 557, titleY: 1441.8,
        series: { data: odp60C13, color: "#2e3192", r: 2.6 } },
      { range: [645, 783.3], domain: [0.85, 0.95], ticks: odp60TexTicks, labels: odp60TexLabels, nudge: [2, 0], y: 1394.3, title: T_TEX, titleX: 715, titleY: 1441.8,
        series: { data: odp60Tex, color: "#662d91", r: 2.6, band: odp60Band, bandColor: "#8a63b8", bandOpacity: 0.78, bandWidth: 21 } }
    ]
  },
  { // ODP 1276
    title: ["ODP Site 1276, Newfoundland Basin", "Sinninghe Damsté et al., 2010"], titleX: 1052.7, titleY: 1046.7,
    box: { x0: 835, x1: 903.3, y0: 1038.3, head: 1109, y1: 1394, div: 856.7, divFull: false },
    depthName: "Depth (m)", depthRef: [1082.2, 1083.2], depthPx: [1118.3, 1346.7], depthTicks: odp76DepthTicks, depthLabels: odp76DepthLabels,
    redX: [911, 925], blueX: [925, 938.3], pcie: odp76PCIE, pce: odp76PCE, markA: odp76A, markB: odp76B,
    axes: [
      { range: [911, 1049.3], domain: [-26, -23], ticks: odp76C13Ticks, y: 1394.3, title: T_C13org, titleX: 980.3, titleY: 1441.8,
        series: { data: odp76C13, color: "#a54d9f", r: 2.6 } },
      { range: [1069, 1206.7], domain: [0.7, 1], ticks: odp76TexTicks, y: 1394.3, title: T_TEX, titleX: 1139.3, titleY: 1441.8,
        series: { data: odp76Tex, color: "#e45da2", r: 2.6, band: odp76Band, bandColor: "#ec7fb8", bandOpacity: 0.75, bandWidth: 23 } }
    ]
  }
];

panels.forEach(drawPanel);
</script>
</body>
</html>
